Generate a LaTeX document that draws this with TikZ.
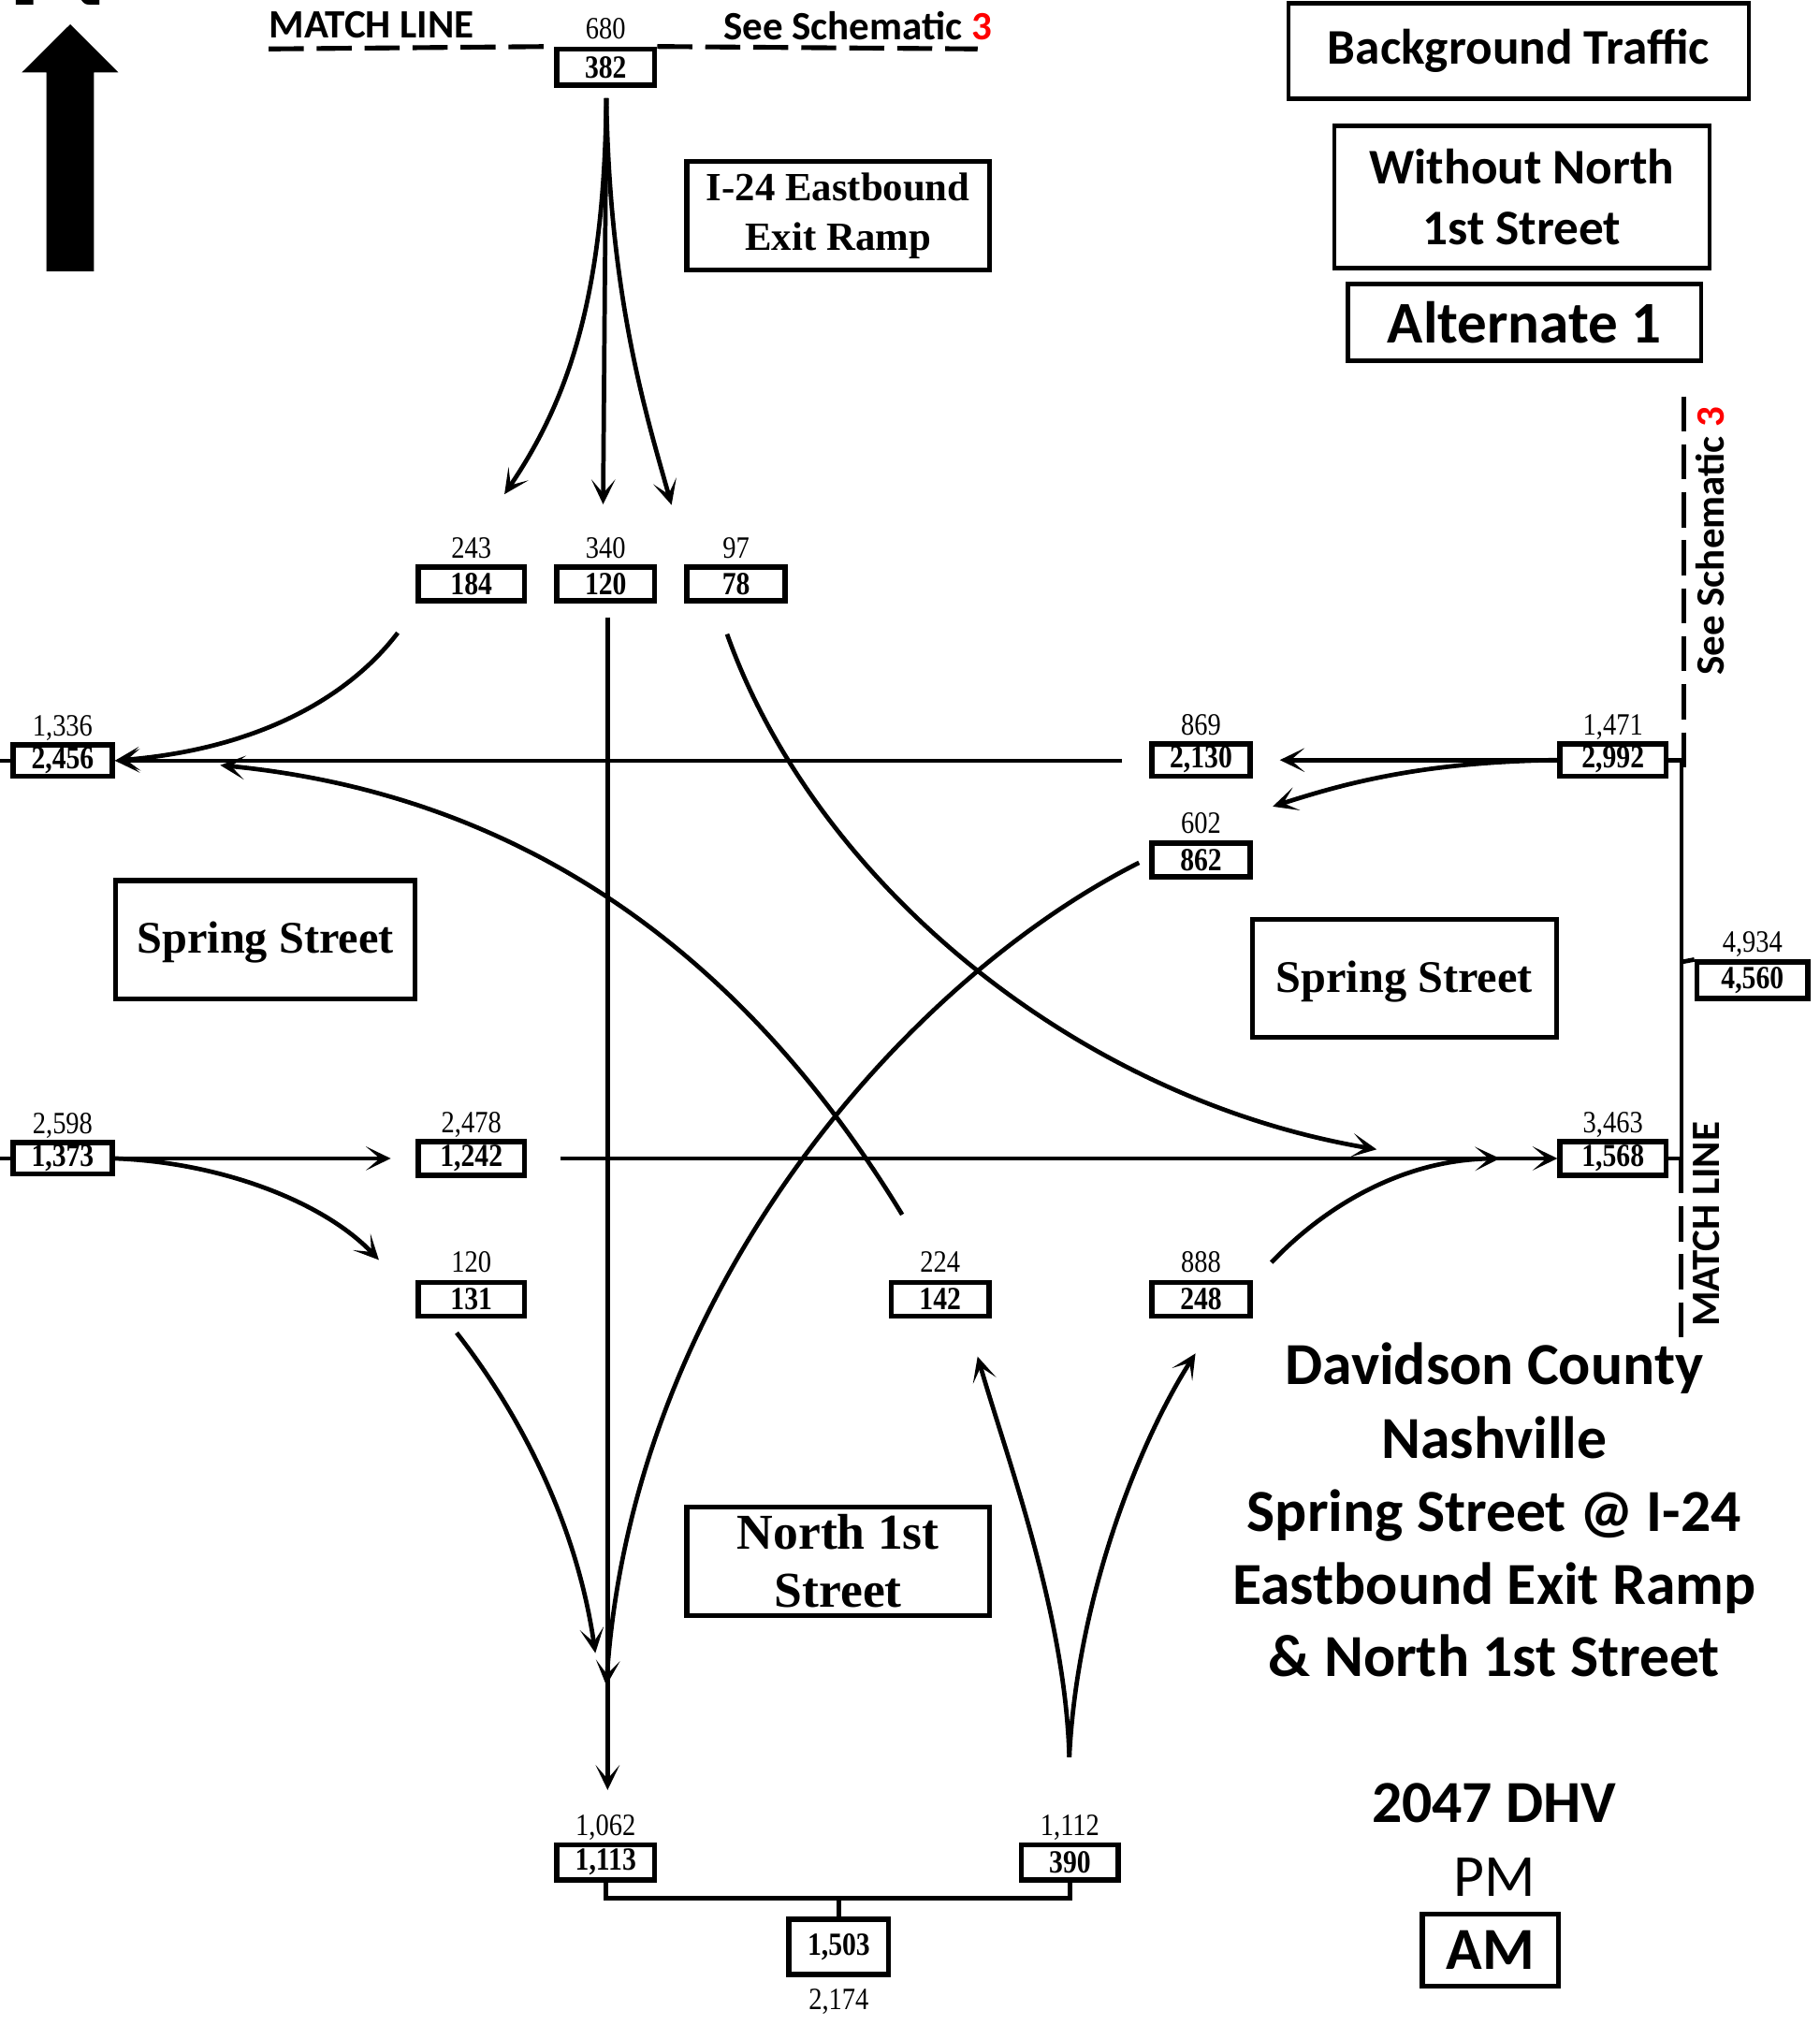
\documentclass[tikz,border=0pt]{standalone}
\usepackage{fontspec}
\setmainfont{Liberation Serif}
\newfontfamily\calfont{Carlito}
\newfontfamily\numfont[FakeStretch=0.86]{Liberation Serif}
\usetikzlibrary{arrows.meta}
\definecolor{schred}{RGB}{255,0,0}
\begin{document}
\begin{tikzpicture}[x=0.7pt,y=-0.7pt,
  numbox/.style={draw,line width=2.8pt,inner sep=0pt,font=\numfont\fontsize{17.5}{19}\selectfont\bfseries},
  numlab/.style={anchor=base,inner sep=0pt,font=\numfont\fontsize{16.8}{18}\selectfont},
  flow/.style={line width=2.4pt},
  arr/.style={flow,-{Stealth[length=13.5pt,width=13pt,inset=7.5pt]}},
  streetbox/.style={draw,line width=2.6pt,align=center,inner sep=0pt},
  infobox/.style={draw,line width=2.4pt,align=center,inner sep=0pt},
  titleline/.style={anchor=base,inner sep=0pt,font=\calfont\bfseries\fontsize{32.3}{38}\selectfont},
  matchdash/.style={line width=2.6pt,dash pattern=on 19pt off 7pt},
  matchtext/.style={inner sep=0pt,font=\calfont\bfseries\fontsize{21.8}{24}\selectfont},
]
\path[fill=white] (0,0) rectangle (1409,1568);
\useasboundingbox (0,0) rectangle (1409,1568);

% north arrow
\fill (36,210) -- (36,56) -- (17,56) -- (54.4,18.8) -- (91.5,56) -- (72.7,56) -- (72.7,210) -- cycle;
\node[anchor=south,inner sep=0pt,font=\calfont\bfseries\fontsize{84}{84}\selectfont] (nlet) at (45,4.3) {N};

% top match line
\node[matchtext,anchor=base west] (mltop) at (208,29.5) {MATCH LINE};
\node[matchtext,anchor=base west] (sstop) at (560,31) {See Schematic \textcolor{schred}{3}};

% number boxes
\node[numbox,minimum width=53.2pt,minimum height=19.6pt] (b382) at (469,52) {382};
\node[numlab] (l382) at (469,30) {680};
\node[numbox,minimum width=57.4pt,minimum height=18.2pt] (b184) at (365,452) {184};
\node[numlab] (l184) at (365,432) {243};
\node[numbox,minimum width=53.2pt,minimum height=18.2pt] (b120) at (469,452) {120};
\node[numlab] (l120) at (469,432) {340};
\node[numbox,minimum width=53.2pt,minimum height=18.2pt] (b78) at (570,452) {78};
\node[numlab] (l78) at (570,432) {97};
\node[numbox,minimum width=53.9pt,minimum height=17pt] (b2456) at (48.5,589) {2,456};
\node[numlab] (l2456) at (48.5,570) {1,336};
\node[numbox,minimum width=53.2pt,minimum height=17.5pt] (b2130) at (930,588.5) {2,130};
\node[numlab] (l2130) at (930,569) {869};
\node[numbox,minimum width=57.4pt,minimum height=17.5pt] (b2992) at (1249,588.5) {2,992};
\node[numlab] (l2992) at (1249,569) {1,471};
\node[numbox,minimum width=53.2pt,minimum height=18.2pt] (b862) at (930,666) {862};
\node[numlab] (l862) at (930,645) {602};
\node[numbox,minimum width=60.2pt,minimum height=19.6pt] (b4560) at (1357,759) {4,560};
\node[numlab] (l4560) at (1357,737) {4,934};
\node[numbox,minimum width=53.9pt,minimum height=17pt] (b1373) at (48.5,897) {1,373};
\node[numlab] (l1373) at (48.5,878) {2,598};
\node[numbox,minimum width=57.4pt,minimum height=18.2pt] (b1242) at (365,897) {1,242};
\node[numlab] (l1242) at (365,877) {2,478};
\node[numbox,minimum width=57.4pt,minimum height=18.2pt] (b1568) at (1249,897) {1,568};
\node[numlab] (l1568) at (1249,877) {3,463};
\node[numbox,minimum width=57.4pt,minimum height=18.2pt] (b131) at (365,1006) {131};
\node[numlab] (l131) at (365,985) {120};
\node[numbox,minimum width=53.2pt,minimum height=18.2pt] (b142) at (728,1006) {142};
\node[numlab] (l142) at (728,985) {224};
\node[numbox,minimum width=53.2pt,minimum height=18.2pt] (b248) at (930,1006) {248};
\node[numlab] (l248) at (930,985) {888};
\node[numbox,minimum width=53.2pt,minimum height=18.9pt] (b1113) at (469,1442) {1,113};
\node[numlab] (l1113) at (469,1421) {1,062};
\node[numbox,minimum width=52.5pt,minimum height=18.9pt] (b390) at (828.5,1442) {390};
\node[numlab] (l390) at (828.5,1421) {1,112};
\node[numbox,minimum width=53.9pt,minimum height=30.1pt] (b1503) at (649.5,1507.5) {1,503};
\node[numlab] (l1503) at (649.5,1556) {2,174};

% street label boxes
\node[streetbox,minimum width=164pt,minimum height=59pt,font=\bfseries\fontsize{21.7}{26.8}\selectfont] (ramp) at (649,167) {I-24 Eastbound\\Exit Ramp};
\node[streetbox,minimum width=162pt,minimum height=64pt,font=\bfseries\fontsize{24.5}{28}\selectfont,text depth=2pt] (springL) at (205.5,727.5) {Spring Street};
\node[streetbox,minimum width=164.8pt,minimum height=64pt,font=\bfseries\fontsize{24.5}{28}\selectfont,text depth=2pt] (springR) at (1087.5,757.5) {Spring Street};
\node[streetbox,minimum width=164pt,minimum height=59pt,font=\bfseries\fontsize{27.2}{31.5}\selectfont] (north1st) at (649,1209) {North 1st\\Street};

% info boxes
\node[infobox,minimum width=249.6pt,minimum height=51.5pt,font=\calfont\bfseries\fontsize{27}{32}\selectfont] (bgt) at (1176,39.5) {Background Traffic};
\node[infobox,minimum width=203.4pt,minimum height=77pt,font=\calfont\bfseries\fontsize{27}{32.9}\selectfont] (wno) at (1178.5,152.5) {Without North\\1st Street};
\node[infobox,minimum width=191.5pt,minimum height=41.7pt,font=\calfont\bfseries\fontsize{32}{38}\selectfont] (alt) at (1180.5,249.5) {Alternate 1};

% title
\node[titleline] (t1) at (1157,1072) {Davidson County};
\node[titleline] (t2) at (1157,1129) {Nashville};
\node[titleline] (t3) at (1157,1186) {Spring Street @ I-24};
\node[titleline] (t4) at (1157,1242) {Eastbound Exit Ramp};
\node[titleline] (t5) at (1157,1298) {\& North 1st Street};
\node[titleline] (t6) at (1157,1411) {2047 DHV};
\node[titleline,font=\calfont\fontsize{32.3}{38}\selectfont] (t7) at (1157,1468) {PM};
\node[draw,line width=2.6pt,minimum width=73.7pt,minimum height=39.4pt,inner sep=0pt,font=\calfont\bfseries\fontsize{32.3}{38}\selectfont] (am) at (1154,1510) {AM};

% right side match lines
\node[matchtext,rotate=90] (ssr) at (1324,419) {See Schematic \textcolor{schred}{3}};
\node[matchtext,rotate=90] (mlr) at (1321,948) {MATCH LINE};

% coordinates
\coordinate (mlL) at (208,37.9);
\coordinate (mlR) at (757,37.9);
\coordinate (dt) at (1304,307);
\coordinate (dtb) at (1304,594);
\coordinate (jt) at (1302,588.5);
\coordinate (jb) at (1302,897);
\coordinate (jm) at (1302,744.9);
\coordinate (dbe) at (1302,1037);
\coordinate (edgeA) at (0,589);
\coordinate (edgeB) at (0,897);
\coordinate (s382) at (469.5,76);
\coordinate (e184) at (390.6,382.7);
\coordinate (e120) at (467,390.5);
\coordinate (e78) at (520,391);
\coordinate (s184) at (308,490);
\coordinate (s120) at (470.5,478);
\coordinate (e120d) at (470.5,1386);
\coordinate (s78) at (563,491);
\coordinate (e78r) at (1066,890);
\coordinate (s2130) at (869,589);
\coordinate (e2992a) at (991,588.5);
\coordinate (e2992b) at (985.5,624.5);
\coordinate (s142) at (698.6,940.5);
\coordinate (e142) at (170.5,592.5);
\coordinate (s862) at (882,668);
\coordinate (e862) at (469.5,1305);
\coordinate (e1373a) at (302.6,897);
\coordinate (e1373b) at (293.4,975.6);
\coordinate (s1242) at (434,897);
\coordinate (s248) at (984.5,977.5);
\coordinate (e248) at (1161.5,897);
\coordinate (s131) at (353.6,1032);
\coordinate (e131) at (461,1280);
\coordinate (sNB) at (828,1360.6);
\coordinate (eNB142) at (757,1050.4);
\coordinate (eNB248) at (925.7,1048);
\coordinate (brk) at (649.5,1470);

% match lines
\draw[matchdash] (mlL) -- (b382.north west);
\draw[matchdash] (b382.north east) -- (mlR);
\draw[matchdash] (dt) -- (dtb);
\draw[matchdash] (jb) -- (dbe);
\draw[flow] (b2992.east) -- (jt) -- (jb) -- (b1568.east);
\draw[flow] (jm) -- (b4560.north west);
\draw[flow] (edgeA) -- (b2456.west);
\draw[flow] (edgeB) -- (b1373.west);

% movements
\draw[arr] (s382) .. controls (468,230) and (440,310) .. (e184);
\draw[arr] (s382) -- (e120);
\draw[arr] (s382) .. controls (472,230) and (500,320) .. (e78);
\draw[arr] (s184) .. controls (270,540) and (200,580) .. (b2456.east);
\draw[arr] (s120) -- (e120d);
\draw[arr] (s78) .. controls (630,680) and (830,850) .. (e78r);
\draw[arr] (s2130) -- (b2456.east);
\draw[arr] (b2992.west) -- (e2992a);
\draw[arr] (b2992.west) .. controls (1100,590) and (1040,607) .. (e2992b);
\draw[arr] (s142) .. controls (610,795) and (455,620) .. (e142);
\draw[arr] (s862) .. controls (700,760) and (490,1000) .. (e862);
\draw[arr] (b1373.east) -- (e1373a);
\draw[arr] (b1373.east) .. controls (170,900) and (250,930) .. (e1373b);
\draw[arr] (s1242) -- (b1568.west);
\draw[arr] (s248) .. controls (1030,930) and (1090,898) .. (e248);
\draw[arr] (s131) .. controls (395,1085) and (445,1170) .. (e131);
\draw[arr] (sNB) .. controls (825,1250) and (780,1130) .. (eNB142);
\draw[arr] (sNB) .. controls (834,1240) and (880,1120) .. (eNB248);

% bottom bracket
\draw[flow] (b1113.south) |- (brk) -| (b390.south);
\draw[flow] (brk) -- (b1503.north);
\end{tikzpicture}
\end{document}
